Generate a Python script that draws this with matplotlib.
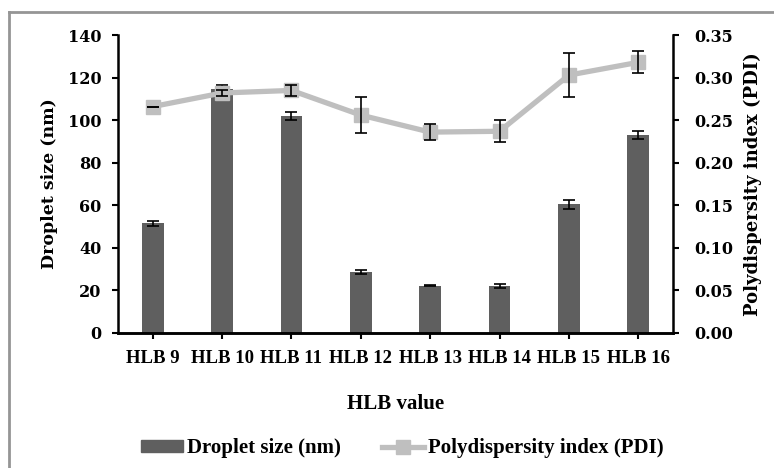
import matplotlib
matplotlib.use('Agg')
import matplotlib.pyplot as plt
from matplotlib.lines import Line2D

plt.rcParams['font.family'] = ['DejaVu Serif']
plt.rcParams['font.weight'] = 'bold'

# data
labels = ['HLB 9', 'HLB 10', 'HLB 11', 'HLB 12', 'HLB 13', 'HLB 14', 'HLB 15', 'HLB 16']
droplet = [51.5, 114.5, 102, 28.7, 22.3, 22, 60.5, 93]
droplet_err = [1.2, 2.0, 2.0, 1.0, 0.4, 1.0, 2.2, 1.8]
pdi = [0.266, 0.282, 0.285, 0.256, 0.236, 0.237, 0.303, 0.318]
pdi_err = [0.0, 0.003, 0.006, 0.021, 0.009, 0.013, 0.026, 0.013]

bar_col = '#5f5f5f'
line_col = '#bfbfbf'
narrow = 'Liberation Serif'

fig = plt.figure(figsize=(7.74, 4.68), dpi=100)
ax = fig.add_axes([0.1525, 0.2885, 0.717, 0.6365])
ax2 = ax.twinx()

x = range(len(labels))
ax.bar(x, droplet, width=0.315, color=bar_col, zorder=2)
ax.errorbar(x, droplet, yerr=droplet_err, fmt='none', ecolor='black',
            elinewidth=1.2, capsize=4, capthick=1.2, zorder=3)

ax2.plot(x, pdi, color=line_col, lw=3.8, marker='s', ms=9.5, zorder=2)
ax2.errorbar(x, pdi, yerr=pdi_err, fmt='none', ecolor='black',
             elinewidth=1.2, capsize=4, capthick=1.2, zorder=3)

ax.set_xlim(-0.5, 7.5)
ax.set_ylim(0, 140)
ax.set_yticks(range(0, 141, 20))
ax2.set_ylim(0, 0.35)
ax2.set_yticks([i * 0.05 for i in range(8)])
ax2.set_yticklabels(['%.2f' % (i * 0.05) for i in range(8)])
ax.set_xticks(list(x))
ax.set_xticklabels(labels, family=narrow, fontsize=13.5, fontweight='bold')

for a in (ax, ax2):
    a.spines['top'].set_visible(False)
    for s in a.spines.values():
        s.set_linewidth(1.8)
    a.tick_params(width=1.5, length=4, direction='out')
ax.spines['right'].set_visible(False)
ax2.spines['left'].set_visible(False)
ax.tick_params(axis='x', pad=8)
ax.tick_params(axis='y', pad=8, labelsize=11.5)
ax2.tick_params(axis='y', pad=11, labelsize=11.5)
for t in ax.get_yticklabels() + ax2.get_yticklabels():
    t.set_fontweight('bold')

ax.set_ylabel('Droplet size (nm)', fontsize=12.5, fontweight='bold', labelpad=7)
ax2.set_ylabel('Polydispersity index (PDI)', fontsize=13, fontweight='bold', labelpad=8)
ax.set_xlabel('HLB value', family=narrow, fontsize=15, fontweight='bold', labelpad=20)

handles = [plt.Rectangle((0, 0), 1, 1, color=bar_col),
           Line2D([], [], color=line_col, lw=3.8, marker='s', ms=9.5)]
fig.legend(handles, ['Droplet size (nm)', 'Polydispersity index (PDI)'],
           loc='center', bbox_to_anchor=(0.52, 0.042), ncol=2, frameon=False,
           prop={'family': narrow, 'size': 15, 'weight': 'bold'}, handlelength=2.0,
           handleheight=0.5, columnspacing=2.0, handletextpad=0.2)

# gray frame round the chart (left and top edges visible)
fig.add_artist(Line2D([9 / 774, 9 / 774], [0, 1 - 12 / 468], color='#959595', lw=2,
                      transform=fig.transFigure))
fig.add_artist(Line2D([9 / 774, 1], [1 - 12 / 468, 1 - 12 / 468], color='#959595', lw=2,
                      transform=fig.transFigure))

fig.savefig('out.png', dpi=100)
